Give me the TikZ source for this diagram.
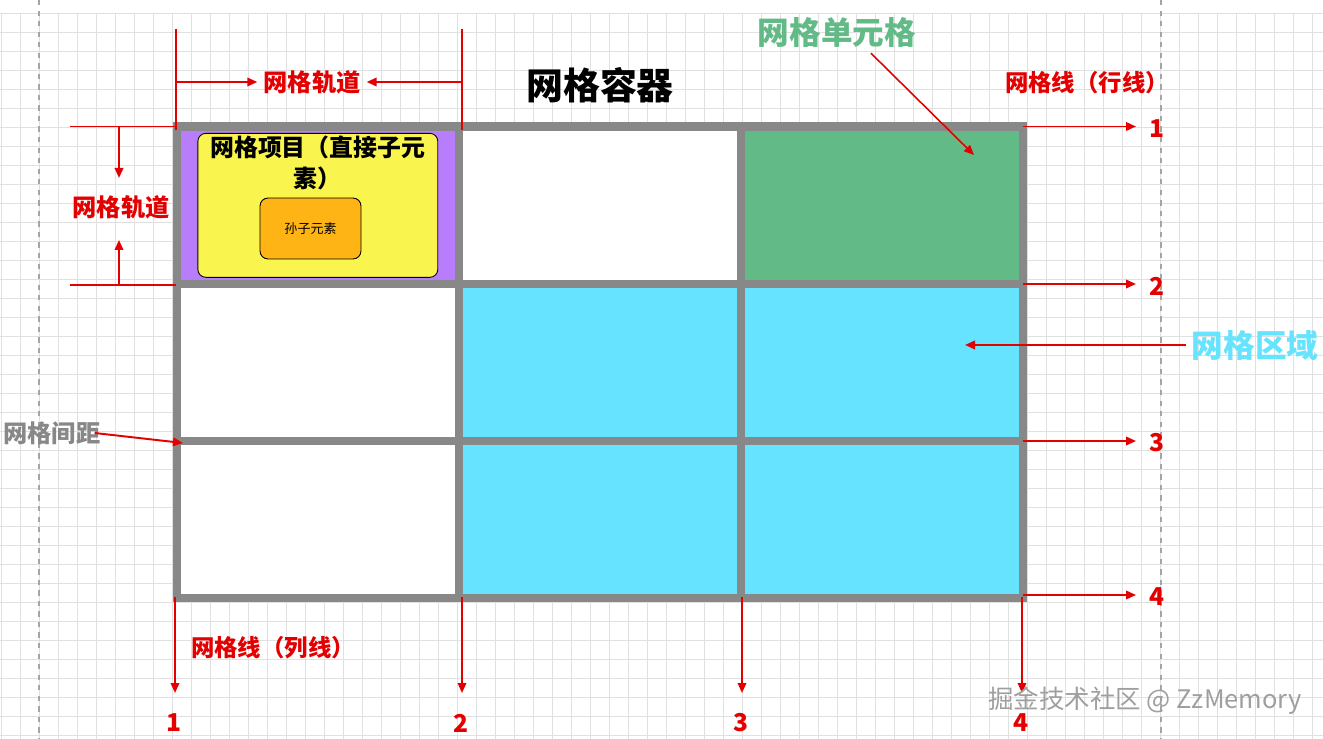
\documentclass[tikz,border=0pt]{standalone}
\usepackage{fontspec}
\setmainfont{Noto Sans CJK SC}
\usetikzlibrary{matrix,arrows.meta,positioning}
\definecolor{framegray}{RGB}{136,136,136}
\definecolor{papergrid}{RGB}{224,224,224}
\definecolor{guidegray}{RGB}{165,165,165}
\definecolor{markred}{RGB}{228,0,0}
\definecolor{itempurple}{RGB}{183,125,250}
\definecolor{itemyellow}{RGB}{250,244,78}
\definecolor{childorange}{RGB}{255,180,22}
\definecolor{cellgreen}{RGB}{98,187,134}
\definecolor{areacyan}{RGB}{102,227,255}
\newcommand{\fsz}[2]{\fontsize{#1}{#2}\selectfont}

\begin{document}
\begin{tikzpicture}[x=0.02cm, y=-0.02cm,
		cell/.style={fill=white, minimum width=5.48cm, minimum height=2.98cm, inner sep=0pt, outer sep=0pt},
		itembox/.style={fill=itemyellow, draw=black, line width=0.5pt, rounded corners=0.16cm, minimum width=4.8cm, minimum height=2.88cm},
		childbox/.style={fill=childorange, draw=black, line width=0.5pt, rounded corners=0.16cm, minimum width=2.02cm, minimum height=1.22cm, font=\fsz{7.4}{9}},
		marklabel/.style={text=markred, font=\bfseries\fsz{13.8}{16}},
		linelabel/.style={text=markred, font=\bfseries\fsz{13.3}{16}},
		numlabel/.style={text=markred, font=\bfseries\fsz{14}{17}},
		biglabel/.style={font=\bfseries\fsz{18}{22}},
		redline/.style={draw=markred, line width=1.1pt},
		redarrow/.style={redline, -{Triangle[length=2mm,width=1.7mm]}}
	]
	\useasboundingbox (0,0) rectangle (1323,739);
	\fill[white] (0,0) rectangle (1323,739);
	\foreach \gx in {1,20,...,1323}
		\draw[papergrid, line width=0.5pt] (\gx,13) -- (\gx,739);
	\foreach \gy in {13,32,...,739}
		\draw[papergrid, line width=0.5pt] (0,\gy) -- (1323,\gy);
	\draw[guidegray, dashed, line width=0.6pt] (39,0) -- (39,739);
	\draw[guidegray, dashed, line width=0.6pt] (1161,0) -- (1161,739);

	\fill[framegray] (172.5,122.5) rectangle (1027,602);
	\matrix (g) [matrix of nodes, nodes in empty cells, nodes={cell}, column sep=0.16cm, row sep=0.16cm, inner sep=0pt, anchor=north west] at (180.5,130.5)
	{
		|[fill=itempurple]| & & |[fill=cellgreen]| \\
		& |[fill=areacyan]| & |[fill=areacyan]| \\
		& |[fill=areacyan]| & |[fill=areacyan]| \\
	};
	\node[itembox] (item) at (g-1-1) {};
	\node[below=0.06cm of item.north, inner sep=0pt, align=center, font=\bfseries\fsz{13.6}{17.6}] (itemtitle) {网格项目（直接子元\\素）};
	\node[childbox] (child) at (310.5,228.5) {孙子元素};

	\node[font=\bfseries\fsz{21}{25}] (container) at (600,85) {网格容器};

	\coordinate (ttl) at (176,29);
	\coordinate (ttr) at (462,29);
	\node[marklabel] (toptrack) at (312,82) {网格轨道};
	\draw[redline] (ttl) -- (ttl |- g.north);
	\draw[redline] (ttr) -- (ttr |- g.north);
	\draw[redarrow] (ttl |- toptrack) -- (toptrack.west);
	\draw[redarrow] (ttr |- toptrack) -- (toptrack.east);

	\coordinate (ltt) at (70,126.5);
	\coordinate (ltb) at (70,285);
	\coordinate (ltta) at (119,178);
	\coordinate (ltba) at (119,240);
	\node[marklabel] (lefttrack) at (121,207) {网格轨道};
	\draw[redline] (ltt) -- (ltt -| ttl);
	\draw[redline] (ltb) -- (ltb -| ttl);
	\draw[redarrow] (ltta |- ltt) -- (ltta);
	\draw[redarrow] (ltba |- ltb) -- (ltba);

	\node[linelabel] (rowlines) at (1087,83) {网格线（行线）};
	\foreach \ry/\rn in {126.5/1,284/2,441/3,595/4}{
		\coordinate (rs\rn) at (1023,\ry);
		\coordinate (re\rn) at (1136,\ry);
		\node[numlabel] (rn\rn) at (1157,\ry+2) {\rn};
		\draw[redarrow] (rs\rn) -- (re\rn);
	}
	\node[linelabel] (collines) at (273,648) {网格线（列线）};
	\foreach \cx/\cn in {175/1,462/2,742/3,1022/4}{
		\coordinate (cs\cn) at (\cx,597);
		\coordinate (ce\cn) at (\cx,693);
		\node[numlabel] (cn\cn) at (\cx-1,723) {\cn};
		\draw[redarrow] (cs\cn) -- (ce\cn);
	}

	\node[biglabel, text=cellgreen] (celllab) at (837,32) {网格单元格};
	\coordinate (cellptr) at (974,155);
	\draw[redarrow, line width=0.9pt] ([xshift=0.68cm]celllab.south) -- (cellptr);

	\node[biglabel, text=areacyan] (arealab) at (1255,345) {网格区域};
	\coordinate (areaptr) at (965,345);
	\draw[redarrow] (arealab.west) -- (areaptr);

	\node[marklabel, text=framegray] (gaplab) at (52,433) {网格间距};
	\coordinate (gapptr) at (183,443);
	\draw[redarrow] ([xshift=-0.24cm]gaplab.east) -- (gapptr);

	\node[text=gray!75, font=\fsz{14.5}{17}] (mark) at (1145,701) {掘金技术社区 @ ZzMemory};
\end{tikzpicture}
\end{document}
